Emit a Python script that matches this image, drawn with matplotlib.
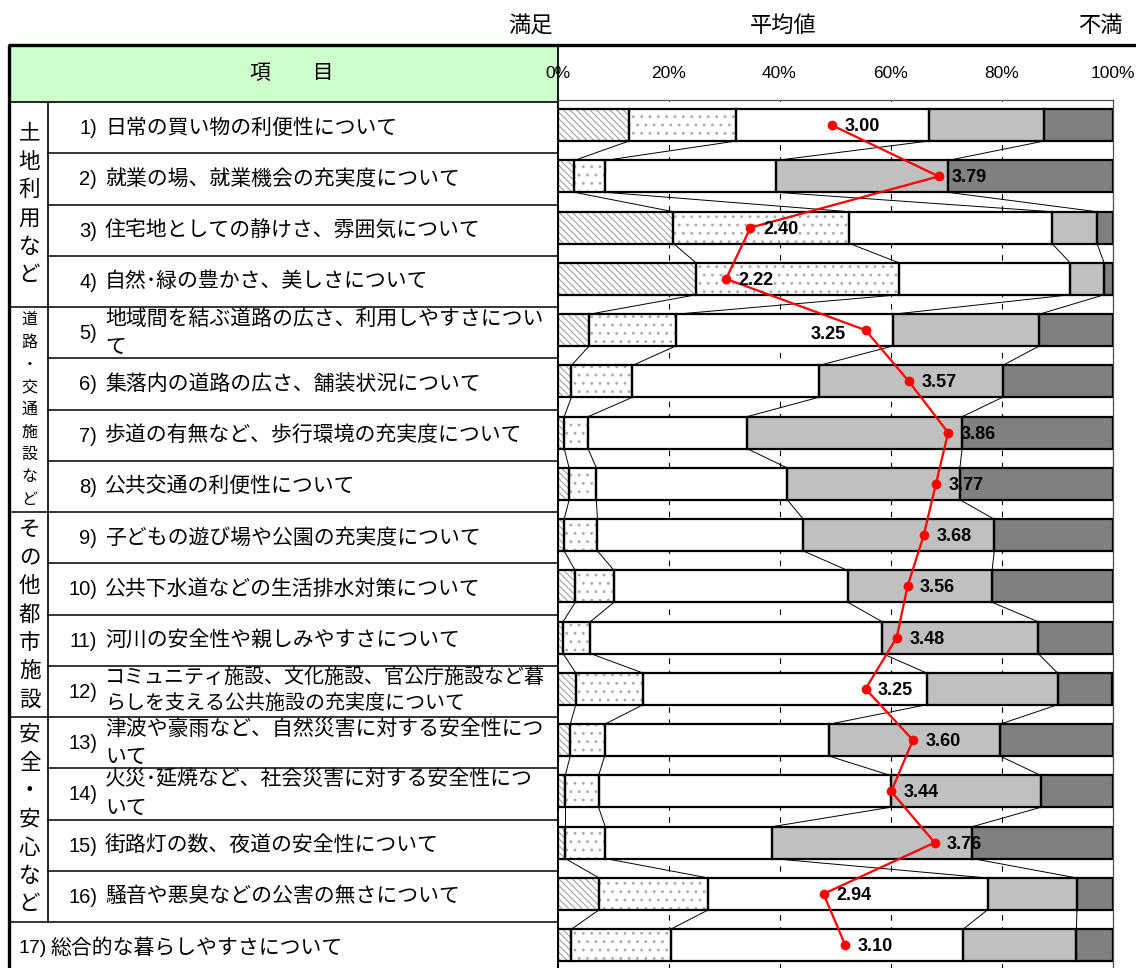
import matplotlib
matplotlib.use('Agg')
import matplotlib.pyplot as plt
from matplotlib import font_manager
import numpy as np

available = {f.name for f in font_manager.fontManager.ttflist}
JP = 'Noto Sans CJK JP'
NARROW = 'Liberation Sans Narrow' if 'Liberation Sans Narrow' in available else 'Liberation Sans'
plt.rcParams['font.family'] = [JP, 'DejaVu Sans']
plt.rcParams['hatch.linewidth'] = 0.8

# ---------------- data ----------------
numbers = ['1)', '2)', '3)', '4)', '5)', '6)', '7)', '8)', '9)', '10)', '11)', '12)',
           '13)', '14)', '15)', '16)', '17)']
items = [
    ['日常の買い物の利便性について'],
    ['就業の場、就業機会の充実度について'],
    ['住宅地としての静けさ、雰囲気について'],
    ['自然･緑の豊かさ、美しさについて'],
    ['地域間を結ぶ道路の広さ、利用しやすさについ', 'て'],
    ['集落内の道路の広さ、舗装状況について'],
    ['歩道の有無など、歩行環境の充実度について'],
    ['公共交通の利便性について'],
    ['子どもの遊び場や公園の充実度について'],
    ['公共下水道などの生活排水対策について'],
    ['河川の安全性や親しみやすさについて'],
    ['コミュニティ施設、文化施設、官公庁施設など暮', 'らしを支える公共施設の充実度について'],
    ['津波や豪雨など、自然災害に対する安全性につ', 'いて'],
    ['火災･延焼など、社会災害に対する安全性につ', 'いて'],
    ['街路灯の数、夜道の安全性について'],
    ['騒音や悪臭などの公害の無さについて'],
    ['総合的な暮らしやすさについて'],
]
group_names = ['土地利用など', '道路・交通施設など', 'その他都市施設', '安全・安心など']
group_rows = [(0, 4), (4, 8), (8, 12), (12, 16)]

satisfied      = [12.9, 3.0, 20.9, 25.0, 5.7, 2.5, 1.2, 2.1, 1.2, 3.2, 1.0, 3.3, 2.3, 1.4, 1.4, 7.5, 2.5]
some_satisfied = [19.3, 5.5, 31.7, 36.6, 15.6, 11.0, 4.3, 4.9, 6.0, 7.0, 4.9, 12.1, 6.2, 6.0, 7.2, 19.7, 17.9]
neutral        = [34.7, 30.8, 36.5, 30.8, 39.1, 33.6, 28.6, 34.4, 37.1, 42.1, 52.6, 51.1, 40.4, 52.6, 30.0, 50.3, 52.7]
some_dissat    = [20.8, 31.0, 8.1, 6.1, 26.4, 33.1, 38.8, 31.1, 34.4, 26.0, 28.1, 23.6, 30.8, 27.1, 36.1, 16.1, 20.4]
dissatisfied   = [12.3, 29.7, 2.8, 1.5, 13.2, 19.8, 27.1, 27.5, 21.3, 21.7, 13.4, 9.9, 20.3, 12.9, 25.3, 6.4, 6.5]
means = [3.00, 3.79, 2.40, 2.22, 3.25, 3.57, 3.86, 3.77, 3.68, 3.56, 3.48, 3.25, 3.60, 3.44, 3.76, 2.94, 3.10]

pct_ticks = [0, 20, 40, 60, 80, 100]
pct_labels = ['0%', '20%', '40%', '60%', '80%', '100%']

# ---------------- layout ----------------
W, H = 1136, 968
fig = plt.figure(figsize=(W / 100, H / 100), dpi=100)

tab = fig.add_axes([0, 0, 1, 1])
tab.set_xlim(0, W)
tab.set_ylim(H, 0)
tab.set_axis_off()

pitch = 51.25
head_top, head_bot = 45, 102
x_left, x_cat, x_right = 10, 48, 557.5

# header fill
tab.add_patch(plt.Rectangle((x_left, head_top), x_right - x_left, head_bot - head_top,
                            facecolor='#CCFFCC', edgecolor='none', zorder=0))
tab.text((x_left + x_right) / 2 + 8, (head_top + head_bot) / 2, '項　　目',
         ha='center', va='center', fontsize=15)

# top labels
tab.text(530, 25, '満足', ha='center', va='center', fontsize=16)
tab.text(783, 25, '平均値', ha='center', va='center', fontsize=16)
tab.text(1100, 25, '不満', ha='center', va='center', fontsize=16)

# table lines
tab.plot([8, W], [head_top, head_top], color='black', lw=2.4, solid_capstyle='butt')
tab.plot([x_left - 1, x_left - 1], [head_top, H], color='black', lw=2.4, solid_capstyle='butt')
tab.plot([x_right, x_right], [head_top, H], color='black', lw=1.3)
tab.plot([x_left, x_right], [head_bot, head_bot], color='black', lw=1.2)
tab.plot([x_cat, x_cat], [head_bot, head_bot + 16 * pitch], color='black', lw=1.2)
group_ends = [e for _, e in group_rows]
for k in range(1, 17):
    yb = head_bot + k * pitch
    x0 = x_left if k in group_ends else x_cat
    tab.plot([x0, x_right], [yb, yb], color='black', lw=1.1)

# category texts (vertical)
for name, (r0, r1) in zip(group_names, group_rows):
    yc = head_bot + (r0 + r1) / 2 * pitch
    small = len(name) > 7
    step = 22.5 if small else 28.3
    fs = 11.5 if small else 15.5
    n = len(name)
    for j, ch in enumerate(name):
        tab.text(29.5, yc + (j - (n - 1) / 2) * step, ch, ha='center', va='center', fontsize=fs)

# item texts
num_font = [NARROW, 'DejaVu Sans']
for i, (num, lines) in enumerate(zip(numbers, items)):
    yc = head_bot + (i + 0.5) * pitch
    if i == 16:
        tab.text(19, yc + 1, num, ha='left', va='center', fontsize=14, family=num_font)
        tab.text(50, yc, lines[0], ha='left', va='center', fontsize=15)
        continue
    tab.text(97, yc + 1, num, ha='right', va='center', fontsize=14.5, family=num_font)
    if len(lines) == 1:
        tab.text(105, yc, lines[0], ha='left', va='center', fontsize=15)
    else:
        fs = min(15, 441 / len(lines[0]) / 1.389)
        for j, ln in enumerate(lines):
            tab.text(105, yc + (j - 0.5) * 27, ln, ha='left', va='center', fontsize=fs)

# ---------------- chart ----------------
ax_top_px = 99.5
ax_bot_px = ax_top_px + 17 * pitch
ax_left_px, ax_right_px = 557.5, 1112.5
ax = fig.add_axes([ax_left_px / W, 1 - ax_bot_px / H,
                   (ax_right_px - ax_left_px) / W, (ax_bot_px - ax_top_px) / H])
ax2 = ax.twiny()

ax.set_xlim(0, 100)
ax.set_ylim(16.5, -0.5)

rows = np.arange(len(means))
segments = [satisfied, some_satisfied, neutral, some_dissat, dissatisfied]
faces = ['white', 'white', 'white', '#C0C0C0', '#808080']
hatches = ['\\\\\\\\\\', '..', None, None, None]
hcolors = ['#A0A0A0', '#A8A8A8', 'none', 'none', 'none']
bar_h = 0.62

data = np.array(segments)           # 5 x 17
cum = np.vstack([np.zeros(data.shape[1]), np.cumsum(data, axis=0)])  # 6 x 17

for k in range(5):
    ax.barh(rows, data[k], left=cum[k], height=bar_h, color=faces[k],
            hatch=hatches[k], edgecolor=hcolors[k], linewidth=0, zorder=2)
    ax.barh(rows, data[k], left=cum[k], height=bar_h, fill=False,
            edgecolor='black', linewidth=1.6, zorder=3)

# series lines connecting segment boundaries
for i in range(len(rows) - 1):
    for k in range(1, 5):
        ax.plot([cum[k, i], cum[k, i + 1]], [rows[i] + bar_h / 2, rows[i + 1] - bar_h / 2],
                color='black', lw=0.7, zorder=1.5)

ax.set_xticks(pct_ticks)
ax.set_xticklabels(pct_labels, family=num_font, fontsize=12.5)
ax.xaxis.set_ticks_position('top')
ax.xaxis.set_label_position('top')
ax.tick_params(axis='x', which='both', top=True, labeltop=True, bottom=False,
               labelbottom=False, length=0, pad=13)
ax.set_yticks([])
ax.grid(axis='x', color='black', linestyle=(0, (5, 6)), linewidth=0.8)
ax.set_axisbelow(True)
ax.spines['bottom'].set_visible(False)
ax.spines['left'].set_color('black')
ax.spines['left'].set_linewidth(1.3)
for s in ['top', 'right']:
    ax.spines[s].set_color('#505050')
    ax.spines[s].set_linewidth(0.9)

# mean values on a twin scale
ax2.set_xlim(0.9754, 5.0738)
ax2.set_ylim(16.5, -0.5)
ax2.plot(means, rows, color='#FF0000', lw=1.6, marker='o', ms=6, zorder=5)
left_label = {4}
for i, m in enumerate(means):
    if i in left_label:
        ax2.annotate(f'{m:.2f}', (m, rows[i]), xytext=(-14, -3), textcoords='offset points',
                     ha='right', va='center', fontsize=13, fontweight='bold',
                     family=['Liberation Sans', 'DejaVu Sans'], zorder=6)
    else:
        ax2.annotate(f'{m:.2f}', (m, rows[i]), xytext=(9, -1), textcoords='offset points',
                     ha='left', va='center', fontsize=13, fontweight='bold',
                     family=['Liberation Sans', 'DejaVu Sans'], zorder=6)
ax2.set_axis_off()

fig.savefig('out.png', dpi=100)
